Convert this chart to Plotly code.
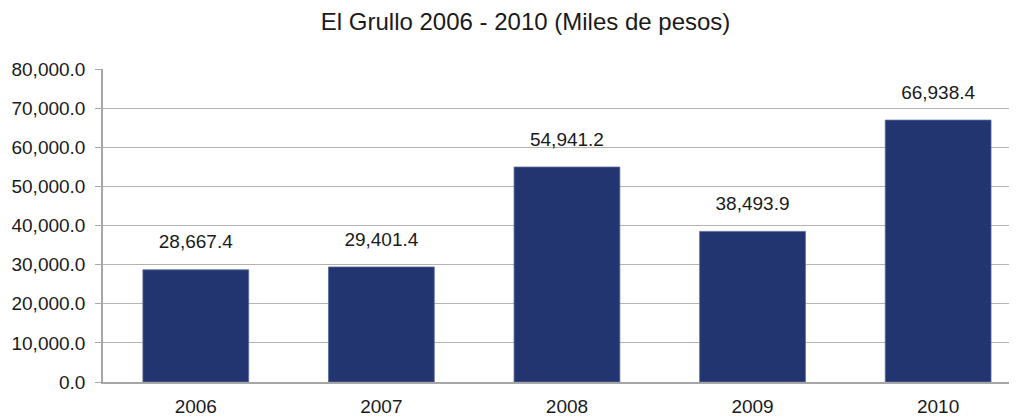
import plotly.graph_objects as go

years = ["2006", "2007", "2008", "2009", "2010"]
values = [28667.4, 29401.4, 54941.2, 38493.9, 66938.4]
labels = [f"{v:,.1f}" for v in values]
y_ticks = [0, 10000, 20000, 30000, 40000, 50000, 60000, 70000, 80000]

font_family = "Liberation Sans, Arial, sans-serif"
text_color = "#1a1a1a"

fig = go.Figure()
fig.add_trace(go.Bar(
    x=years, y=values,
    marker=dict(color="#223570", line=dict(color="#5a6a9a", width=0.8)),
    width=0.57,
))

# value labels above each bar (transparent marker pushes the text up)
fig.add_trace(go.Scatter(
    x=years, y=values, text=labels,
    mode="markers+text", textposition="top center",
    marker=dict(size=25, color="rgba(0,0,0,0)"),
    textfont=dict(family=font_family, size=19, color=text_color),
    cliponaxis=False, hoverinfo="skip",
))

# page body adds an 8px offset, so the figure is 8px smaller than the window
fig.update_layout(
    width=1009, height=409,
    margin=dict(l=95, r=0, t=61, b=35),
    paper_bgcolor="white", plot_bgcolor="white",
    showlegend=False,
    title=dict(text="El Grullo 2006 - 2010 (Miles de pesos)", x=0.513, xanchor="center",
               y=0.967, yanchor="middle",
               font=dict(family=font_family, size=24, color=text_color)),
)
fig.update_xaxes(
    type="category", automargin=False,
    range=[-0.5, 4.425], showline=True, linecolor="#a6a6a6", linewidth=1.5,
    ticks="", showgrid=False, ticklabelstandoff=6,
    tickfont=dict(family=font_family, size=19, color=text_color),
)
fig.update_yaxes(
    automargin=False,
    range=[0, 80000], tickvals=y_ticks, tickformat=",.1f",
    showgrid=True, gridcolor="#b3b3b3", gridwidth=1,
    showline=True, linecolor="#a6a6a6", linewidth=1.5,
    ticks="outside", ticklen=6, tickcolor="#a6a6a6", ticklabelstandoff=6,
    tickfont=dict(family=font_family, size=19, color=text_color),
    zeroline=False,
)

fig.write_html("out.html")
